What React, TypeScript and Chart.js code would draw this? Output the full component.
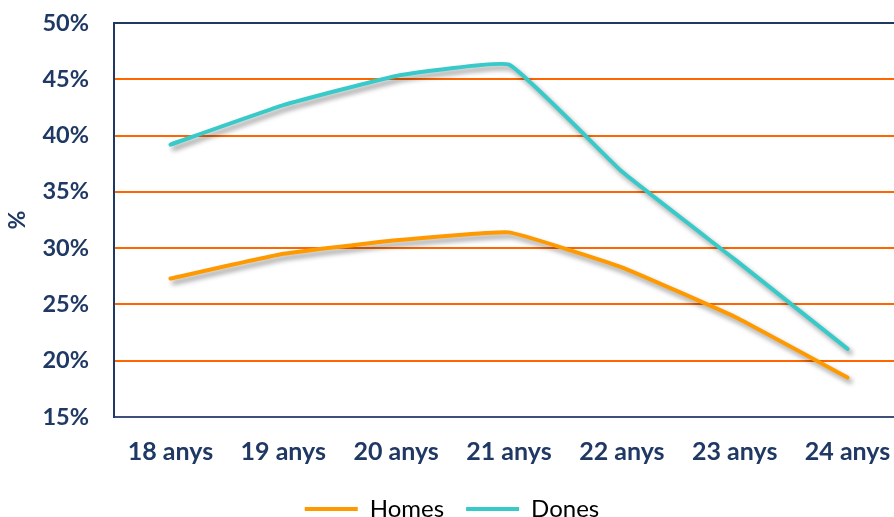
import React, { useEffect, useRef } from "react";
import { Chart, registerables } from "chart.js";

Chart.register(...registerables);

const categories = ["18 anys", "19 anys", "20 anys", "21 anys", "22 anys", "23 anys", "24 anys"];
const homes = [27.3, 29.5, 30.7, 31.4, 28.3, 23.9, 18.5];
const dones = [39.2, 42.7, 45.3, 46.3, 36.8, 29.0, 21.05];
const yTicks = [15, 20, 25, 30, 35, 40, 45, 50];

const NAVY = "#1F3864";
const GRID = "#FF6600";
const HOMES_C = "#FF9900";
const DONES_C = "#38C9C9";

const shadowPlugin = {
  id: "lineShadow",
  beforeDatasetsDraw(chart: any) {
    const ctx = chart.ctx;
    ctx.save();
    ctx.shadowColor = "rgba(0,0,0,0.4)";
    ctx.shadowBlur = 5;
    ctx.shadowOffsetX = 3;
    ctx.shadowOffsetY = 4;
  },
  afterDatasetsDraw(chart: any) {
    chart.ctx.restore();
  },
};

export default function App() {
  const ref = useRef<HTMLCanvasElement | null>(null);
  useEffect(() => {
    if (!ref.current) return;
    const chart = new Chart(ref.current, {
      type: "line",
      data: {
        labels: categories,
        datasets: [
          {
            label: "Homes",
            data: homes,
            borderColor: HOMES_C,
            backgroundColor: HOMES_C,
            borderWidth: 4,
            pointRadius: 0,
            tension: 0.1,
            borderCapStyle: "round",
            borderJoinStyle: "round",
          },
          {
            label: "Dones",
            data: dones,
            borderColor: DONES_C,
            backgroundColor: DONES_C,
            borderWidth: 4,
            pointRadius: 0,
            tension: 0.1,
            borderCapStyle: "round",
            borderJoinStyle: "round",
          },
        ],
      },
      plugins: [shadowPlugin],
      options: {
        animation: false,
        responsive: false,
        maintainAspectRatio: false,
        layout: { padding: { top: 23, left: 0, right: 0, bottom: -14 } },
        plugins: {
          tooltip: { enabled: false },
          legend: {
            position: "bottom",
            labels: {
              usePointStyle: true,
              pointStyle: "line",
              pointStyleWidth: 53,
              color: "#000000",
              font: { family: "Lato", size: 24 },
              padding: 22,
            },
          },
        },
        scales: {
          x: {
            offset: true,
            grid: { display: false, drawTicks: false },
            border: { display: true, color: "#3E5079", width: 2 },
            ticks: {
              color: NAVY,
              font: { family: "Lato", size: 25, weight: "bold" },
              padding: 20,
              maxRotation: 0,
            },
            afterFit(scale: any) {
              scale.height = 58;
              scale.paddingLeft = 0;
              scale.paddingRight = 0;
            },
          },
          y: {
            min: 15,
            max: 50,
            afterBuildTicks(axis: any) {
              axis.ticks = yTicks.map((v) => ({ value: v }));
            },
            grid: {
              drawTicks: false,
              lineWidth: 2,
              color: (c: any) => (c.tick && c.tick.value === 50 ? NAVY : c.tick && c.tick.value === 15 ? "#3E5079" : GRID),
            },
            border: { display: true, color: NAVY, width: 2 },
            ticks: {
              color: NAVY,
              font: { family: "Lato", size: 23.5, weight: "bold" },
              padding: 25,
              callback: (v: any) => v + "%",
            },
            title: {
              display: true,
              text: "%",
              color: NAVY,
              font: { family: "Lato", size: 23, weight: "bold" },
              padding: { top: 4, bottom: 0 },
            },
            afterFit(scale: any) {
              scale.width = 114;
              scale.paddingTop = 0;
              scale.paddingBottom = 0;
            },
          },
        },
      },
    });
    return () => chart.destroy();
  }, []);
  return (
    <div style={{ position: "fixed", left: 0, top: 0, width: 894, height: 517, overflow: "hidden", background: "#fff" }}>
      <canvas ref={ref} width={904} height={517} style={{ display: "block" }} />
    </div>
  );
}
